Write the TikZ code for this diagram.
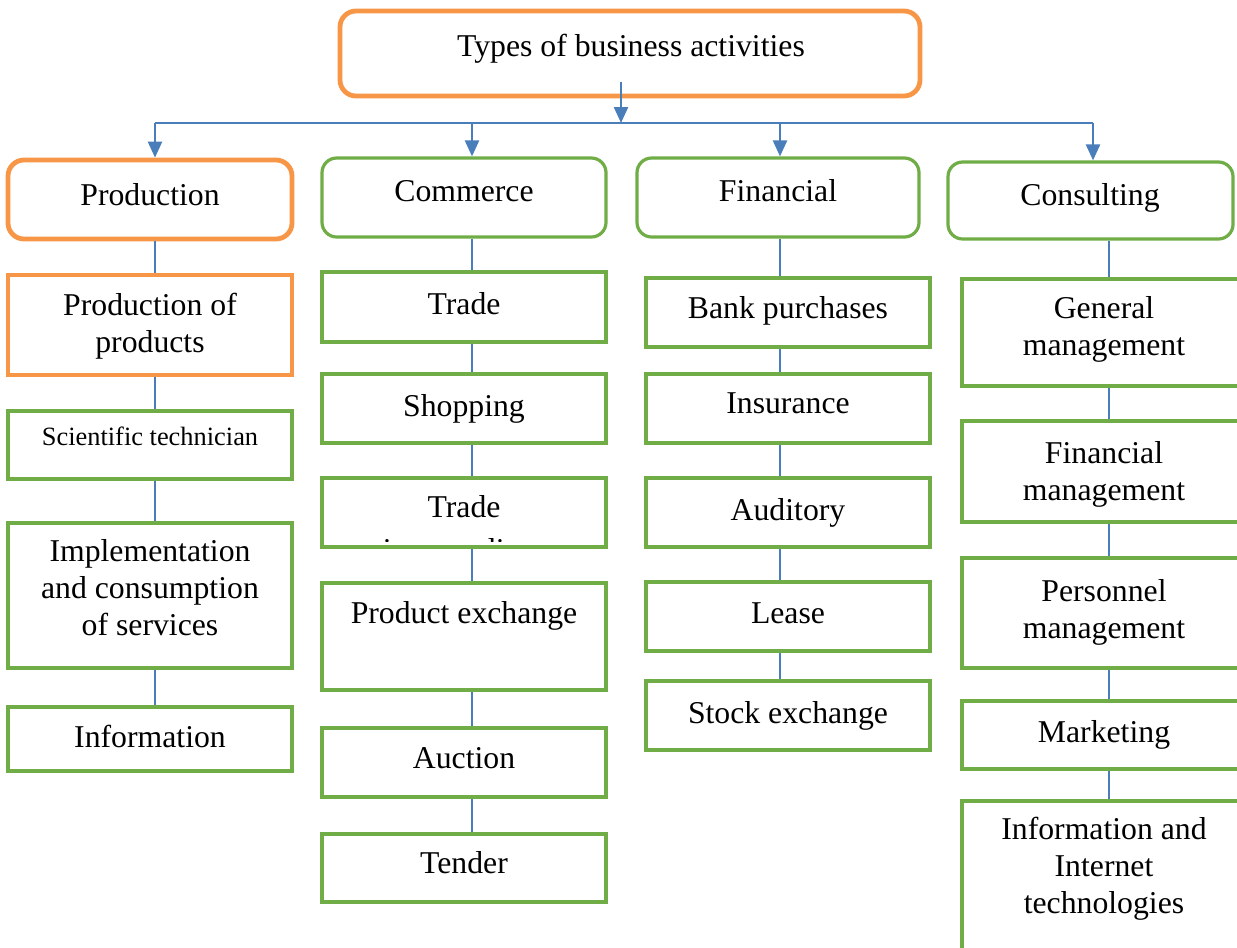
\documentclass[tikz,border=0pt]{standalone}
\usepackage{fontspec}
\setmainfont{Liberation Serif}
\usetikzlibrary{arrows.meta}
\definecolor{orng}{HTML}{F79646}
\definecolor{grn}{HTML}{70AD47}
\definecolor{blu}{HTML}{4A7EBB}
\tikzset{
  obox/.style={draw=orng, line width=3.6pt, rectangle, inner sep=0pt},
  orbox/.style={obox, rounded corners=12pt},
  gbox/.style={draw=grn, line width=2.4pt, rectangle, inner sep=0pt},
  grbox/.style={gbox, rounded corners=11pt},
  txt/.style={inner sep=0pt, anchor=base, align=center, font=\fontsize{23.8}{27.75}\selectfont},
  smalltxt/.style={txt, font=\fontsize{19.8}{24}\selectfont},
  link/.style={draw=blu, line width=1.3pt},
  arr/.style={draw=blu, line width=1.8pt, -{Triangle[length=12pt,width=10.5pt]}},
}
\newcommand{\mybox}[6]{\node[#6, minimum width={(#4-#2)*0.75pt}, minimum height={(#5-#3)*0.75pt}] (#1) at ({(#2+#4)/2},{(#3+#5)/2}) {};}
\begin{document}
\begin{tikzpicture}[x=0.75pt, y=-0.75pt]
\useasboundingbox (0,0) rectangle (1237,947);
\clip (0,0) rectangle (1237,947);
% top
\mybox{top}{340}{11}{920}{96}{orbox}
\node[txt] (topt) at (631,56) {Types of business activities};
% categories
\mybox{prod}{8}{160}{292}{239}{orbox}
\node[txt] (prodt) at (150,205) {Production};
\mybox{comm}{322}{158}{606}{237}{grbox}
\node[txt] (commt) at (464,201) {Commerce};
\mybox{fin}{637}{158}{919}{237}{grbox}
\node[txt] (fint) at (778,201) {Financial};
\mybox{cons}{948}{162}{1233}{239}{grbox}
\node[txt] (const) at (1090,205) {Consulting};
% column x
\coordinate (cp) at (155,0);
\coordinate (cc) at (472,0);
\coordinate (cf) at (780,0);
\coordinate (ck) at (1109,0);
\coordinate (ctop) at (621,82);
\coordinate (hub) at (621,123);
\coordinate (hl) at (155,123);
\coordinate (hr) at (1093,123);
% production column
\mybox{pp}{8}{275}{292}{375}{obox}
\node[txt] (ppt) at (150,352) {Production of\\products};
\mybox{sci}{8}{411}{292}{479}{gbox}
\node[smalltxt] (scit) at (150,445) {Scientific technician};
\mybox{imp}{8}{523}{292}{668}{gbox}
\node[txt] (impt) at (150,635) {Implementation\\and consumption\\of services};
\mybox{inf}{8}{707}{292}{771}{gbox}
\node[txt] (inft) at (150,747) {Information};
% commerce column
\mybox{tr}{322}{272}{606}{342}{gbox}
\node[txt] (trt) at (464,314) {Trade};
\mybox{sh}{322}{374}{606}{443}{gbox}
\node[txt] (sht) at (464,416) {Shopping};
\mybox{ti}{322}{478}{606}{547}{gbox}
\node[txt] (tit) at (464,517) {Trade};
\begin{scope}
\clip (324,480) rectangle (604,541);
\node[txt] (tit2) at (464,560) {intermediary};
\end{scope}
\mybox{pe}{322}{583}{606}{690}{gbox}
\node[txt] (pet) at (464,623) {Product exchange};
\mybox{au}{322}{728}{606}{797}{gbox}
\node[txt] (aut) at (464,768) {Auction};
\mybox{te}{322}{834}{606}{902}{gbox}
\node[txt] (tet) at (464,873) {Tender};
% financial column
\mybox{bp}{646}{278}{930}{347}{gbox}
\node[txt] (bpt) at (788,318) {Bank purchases};
\mybox{ins}{646}{374}{930}{443}{gbox}
\node[txt] (inst) at (788,413) {Insurance};
\mybox{aud}{646}{478}{930}{547}{gbox}
\node[txt] (audt) at (788,520) {Auditory};
\mybox{le}{646}{582}{930}{651}{gbox}
\node[txt] (let) at (788,623) {Lease};
\mybox{st}{646}{681}{930}{750}{gbox}
\node[txt] (stt) at (788,723) {Stock exchange};
% consulting column
\mybox{gm}{962}{279}{1260}{386}{gbox}
\node[txt] (gmt) at (1104,355) {General\\management};
\mybox{fm}{962}{421}{1260}{522}{gbox}
\node[txt] (fmt) at (1104,500) {Financial\\management};
\mybox{pm}{962}{558}{1260}{668}{gbox}
\node[txt] (pmt) at (1104,638) {Personnel\\management};
\mybox{mk}{962}{701}{1260}{769}{gbox}
\node[txt] (mkt) at (1104,742) {Marketing};
\mybox{iit}{962}{801}{1260}{990}{gbox}
\node[txt] (iitt) at (1104,913) {Information and\\Internet\\technologies};
% connectors
\draw[arr] (ctop) -- (hub);
\draw[link] (hl) -- (hr);
\draw[arr] (hl) -- (prod.north -| hl);
\draw[arr] (hl -| cc) -- (comm.north -| cc);
\draw[arr] (hl -| cf) -- (fin.north -| cf);
\draw[arr] (hr) -- (cons.north -| hr);
\draw[link] (prod.south -| cp) -- (pp.north -| cp);
\draw[link] (pp.south -| cp) -- (sci.north -| cp);
\draw[link] (sci.south -| cp) -- (imp.north -| cp);
\draw[link] (imp.south -| cp) -- (inf.north -| cp);
\draw[link] (comm.south -| cc) -- (tr.north -| cc);
\draw[link] (tr.south -| cc) -- (sh.north -| cc);
\draw[link] (sh.south -| cc) -- (ti.north -| cc);
\draw[link] (ti.south -| cc) -- (pe.north -| cc);
\draw[link] (pe.south -| cc) -- (au.north -| cc);
\draw[link] (au.south -| cc) -- (te.north -| cc);
\draw[link] (fin.south -| cf) -- (bp.north -| cf);
\draw[link] (bp.south -| cf) -- (ins.north -| cf);
\draw[link] (ins.south -| cf) -- (aud.north -| cf);
\draw[link] (aud.south -| cf) -- (le.north -| cf);
\draw[link] (le.south -| cf) -- (st.north -| cf);
\draw[link] (cons.south -| ck) -- (gm.north -| ck);
\draw[link] (gm.south -| ck) -- (fm.north -| ck);
\draw[link] (fm.south -| ck) -- (pm.north -| ck);
\draw[link] (pm.south -| ck) -- (mk.north -| ck);
\draw[link] (mk.south -| ck) -- (iit.north -| ck);
\end{tikzpicture}
\end{document}
